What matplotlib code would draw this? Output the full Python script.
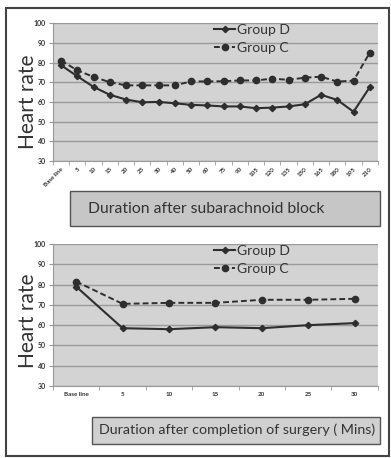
import numpy as np
import matplotlib
matplotlib.use('Agg')
import matplotlib.pyplot as plt
from matplotlib.patches import Rectangle

plt.rcParams['font.family'] = ['Lato', 'DejaVu Sans']

# 上图: 蛛网膜下腔阻滞后
spinal_labels = ['Base line', '5', '10', '15', '20', '25', '30', '40', '50', '60',
                 '75', '90', '105', '120', '135', '150', '165', '180', '195', '210']
spinal_d = [78.6, 73.0, 67.6, 63.6, 61.2, 59.8, 60.0, 59.3, 58.5, 58.2,
            57.7, 57.7, 56.8, 57.1, 57.7, 58.8, 63.6, 61.0, 55.0, 67.5]
spinal_c = [81.0, 76.0, 72.7, 70.0, 68.4, 68.4, 68.4, 68.4, 70.4, 70.4,
            70.5, 70.9, 70.9, 71.8, 71.2, 72.3, 72.8, 70.3, 70.8, 85.0]

# 下图: 手术结束后
post_labels = ['Base line', '5', '10', '15', '20', '25', '30']
post_d = [79.0, 58.5, 58.0, 59.0, 58.5, 60.0, 61.0]
post_c = [81.5, 70.5, 71.0, 71.0, 72.5, 72.5, 73.0]

yticks = [30, 40, 50, 60, 70, 80, 90, 100]
line_col = '#2e2e2e'


def draw_panel(ax, labels, d, c, rotate, label_y):
    x = np.arange(len(labels))
    ax.set_facecolor('#d3d3d3')
    ax.plot(x, d, '-', color=line_col, lw=1.5, marker='D', ms=3.2,
            label='Group D', zorder=3)
    ax.plot(x, c, '--', color=line_col, lw=1.4, marker='o', ms=4.5,
            dashes=(3, 1.6), label='Group C', zorder=3)
    ax.set_xlim(-0.5, len(labels) - 0.5)
    ax.set_ylim(30, 100)
    ax.set_yticks(yticks)
    ax.set_yticklabels([str(v) for v in yticks], fontsize=5, fontweight='bold',
                       color='#333333')
    ax.grid(axis='y', color='#9a9a9a', lw=1.0)
    ax.set_axisbelow(True)
    for s in ['top', 'right']:
        ax.spines[s].set_visible(False)
    ax.spines['left'].set_color('#9a9a9a')
    ax.spines['bottom'].set_color('#9a9a9a')
    ax.set_xticks(x)
    if rotate:
        ax.set_xticklabels(labels, fontsize=4.5, fontweight='bold', rotation=45,
                           ha='right', rotation_mode='anchor', color='#333333')
    else:
        ax.set_xticklabels(labels, fontsize=4.5, fontweight='bold', color='#333333')
    ax.tick_params(axis='x', length=0, pad=4)
    ax.set_xticks(np.arange(-0.5, len(labels), 1), minor=True)
    ax.tick_params(axis='x', which='minor', length=3, color='#9a9a9a')
    ax.tick_params(axis='y', length=3, color='#9a9a9a', pad=2)
    ax.set_ylabel('Heart rate', fontsize=15, color='#333333')
    ax.yaxis.set_label_coords(-0.047, label_y)
    ax.legend(loc='upper left', bbox_to_anchor=(0.475, 1.045), frameon=False,
              fontsize=10, handlelength=1.5, handletextpad=0.15,
              labelspacing=0.45, borderpad=0, labelcolor='#333333')


fig = plt.figure(figsize=(3.91, 4.58), dpi=100)

ax1 = fig.add_axes([0.1355, 0.6485, 0.831, 0.301])
draw_panel(ax1, spinal_labels, spinal_d, spinal_c, True, 0.43)

ax2 = fig.add_axes([0.1355, 0.1572, 0.831, 0.31])
draw_panel(ax2, post_labels, post_d, post_c, False, 0.46)

# 标题框
fig.patches.append(Rectangle((70 / 391, 1 - 226 / 458), 310 / 391, 35 / 458,
                             transform=fig.transFigure, facecolor='#c6c6c6',
                             edgecolor='#555555', lw=1.0))
fig.text(88 / 391, 1 - 209 / 458, 'Duration after subarachnoid block',
         fontsize=11.3, va='center', ha='left', color='#333333')

fig.patches.append(Rectangle((92 / 391, 1 - 444 / 458), 288 / 391, 27 / 458,
                             transform=fig.transFigure, facecolor='#d0d0d0',
                             edgecolor='#555555', lw=1.0))
fig.text(99 / 391, 1 - 430 / 458, 'Duration after completion of surgery ( Mins)',
         fontsize=10.3, va='center', ha='left', color='#333333')

# 外边框
fig.patches.append(Rectangle((6 / 391, 1 - 456 / 458), 383 / 391, 448 / 458,
                             transform=fig.transFigure, facecolor='none',
                             edgecolor='#444444', lw=1.5))

fig.savefig('out.png', dpi=100, facecolor='white')
